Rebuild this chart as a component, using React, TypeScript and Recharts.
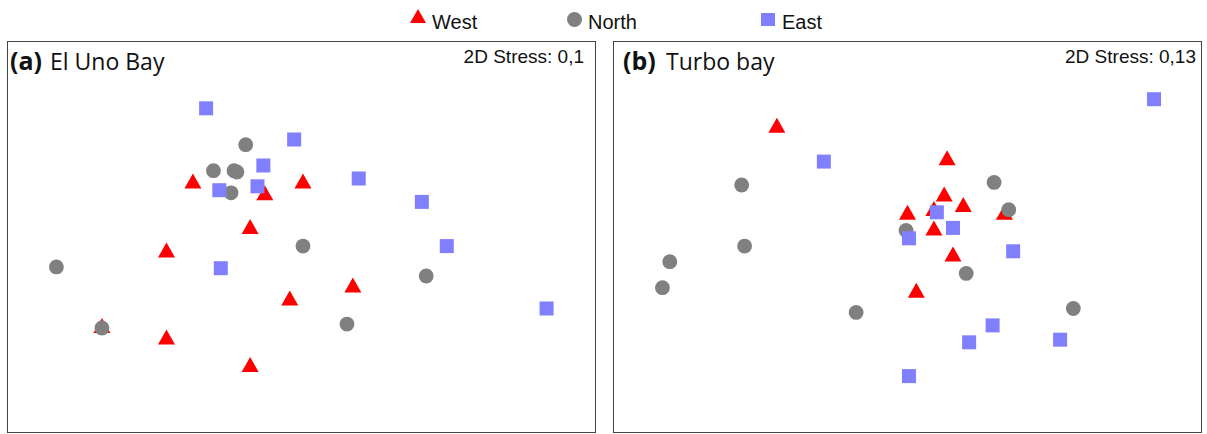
import { ScatterChart, Scatter, XAxis, YAxis } from 'recharts';

// NMDS coordinates (x: -2..2, y: -1.5..1.5)
const unoWest = [
  { x: -0.74, y: 0.43 }, { x: 0.01, y: 0.43 }, { x: -0.25, y: 0.34 }, { x: -0.35, y: 0.08 },
  { x: -0.92, y: -0.1 }, { x: 0.35, y: -0.37 }, { x: -0.08, y: -0.47 }, { x: -1.36, y: -0.68 },
  { x: -0.92, y: -0.77 }, { x: -0.35, y: -0.98 },
];
const unoNorth = [
  { x: -0.38, y: 0.71 }, { x: -0.6, y: 0.51 }, { x: -0.46, y: 0.51 }, { x: -0.44, y: 0.5 },
  { x: -0.48, y: 0.34 }, { x: 0.01, y: -0.07 }, { x: -1.67, y: -0.23 }, { x: 0.85, y: -0.3 },
  { x: 0.31, y: -0.67 }, { x: -1.36, y: -0.7 },
];
const unoEast = [
  { x: -0.65, y: 0.99 }, { x: -0.05, y: 0.75 }, { x: -0.26, y: 0.55 }, { x: -0.56, y: 0.36 },
  { x: -0.3, y: 0.39 }, { x: 0.39, y: 0.45 }, { x: 0.82, y: 0.27 }, { x: 0.99, y: -0.07 },
  { x: -0.55, y: -0.24 }, { x: 1.67, y: -0.55 },
];

const turboWest = [
  { x: -0.89, y: 0.86 }, { x: 0.27, y: 0.61 }, { x: 0.25, y: 0.33 }, { x: 0.38, y: 0.25 },
  { x: 0.0, y: 0.19 }, { x: 0.18, y: 0.22 }, { x: 0.66, y: 0.19 }, { x: 0.18, y: 0.07 },
  { x: 0.31, y: -0.13 }, { x: 0.06, y: -0.41 },
];
const turboNorth = [
  { x: -1.13, y: 0.4 }, { x: 0.59, y: 0.42 }, { x: 0.69, y: 0.21 }, { x: -0.01, y: 0.05 },
  { x: -1.11, y: -0.07 }, { x: -1.62, y: -0.19 }, { x: -1.67, y: -0.39 }, { x: 0.4, y: -0.28 },
  { x: -0.35, y: -0.58 }, { x: 1.13, y: -0.55 },
];
const turboEast = [
  { x: 1.68, y: 1.06 }, { x: -0.57, y: 0.58 }, { x: 0.2, y: 0.19 }, { x: 0.31, y: 0.07 },
  { x: 0.01, y: -0.01 }, { x: 0.72, y: -0.11 }, { x: 0.58, y: -0.68 }, { x: 0.42, y: -0.81 },
  { x: 1.04, y: -0.79 }, { x: 0.01, y: -1.07 },
];

const RED = '#ff0000';
const GREY = '#808080';
const BLUE = '#8080ff';

const Triangle = (p: any) => (
  <polygon
    points={`${p.cx},${p.cy - 7.5} ${p.cx + 8.5},${p.cy + 7.5} ${p.cx - 8.5},${p.cy + 7.5}`}
    fill={RED}
  />
);
const Dot = (p: any) => <circle cx={p.cx} cy={p.cy} r={7.4} fill={GREY} />;
const Square = (p: any) => <rect x={p.cx - 7} y={p.cy - 7} width={14} height={14} fill={BLUE} />;

type PanelProps = { left: number; west: any[]; north: any[]; east: any[] };

const Panel = ({ left, west, north, east }: PanelProps) => (
  <div
    style={{
      position: 'absolute',
      left,
      top: 41,
      width: 589,
      height: 392,
      border: '1px solid #444',
      boxSizing: 'border-box',
    }}
  >
    <ScatterChart width={587} height={390} margin={{ top: 0, right: 0, bottom: 0, left: 0 }}>
      <XAxis type="number" dataKey="x" domain={[-2, 2]} hide />
      <YAxis type="number" dataKey="y" domain={[-1.5, 1.5]} hide />
      <Scatter data={west} shape={Triangle} isAnimationActive={false} />
      <Scatter data={north} shape={Dot} isAnimationActive={false} />
      <Scatter data={east} shape={Square} isAnimationActive={false} />
    </ScatterChart>
  </div>
);

const sans = '"Liberation Sans", Arial, sans-serif';
const title = '"Open Sans", sans-serif';

export default function App() {
  return (
    <div style={{ position: 'absolute', left: 0, top: 0, width: 1207, height: 434, background: '#fff' }}>
      <Panel left={7} west={unoWest} north={unoNorth} east={unoEast} />
      <Panel left={613} west={turboWest} north={turboNorth} east={turboEast} />
      <svg
        width={1207}
        height={434}
        style={{ position: 'absolute', left: 0, top: 0, pointerEvents: 'none' }}
      >
        {/* legend */}
        <polygon points="418,9 426,23 410,23" fill={RED} />
        <text x={432} y={29} fontFamily={sans} fontSize={20} fill="#111">West</text>
        <circle cx={574.5} cy={19.5} r={7.5} fill={GREY} />
        <text x={588} y={29} fontFamily={sans} fontSize={20} fill="#111">North</text>
        <rect x={761} y={13} width={14} height={13} fill={BLUE} />
        <text x={782} y={29} fontFamily={sans} fontSize={20} fill="#111">East</text>

        {/* panel titles */}
        <text x={10} y={70} fontFamily={title} fontSize={25} fontWeight="bold" fill="#111">(a)</text>
        <text x={50} y={70} fontFamily={title} fontSize={23} fill="#111">El Uno Bay</text>
        <text x={584} y={63} textAnchor="end" fontFamily={sans} fontSize={19} fill="#111">2D Stress: 0,1</text>

        <text x={623} y={70} fontFamily={title} fontSize={25} fontWeight="bold" fill="#111">(b)</text>
        <text x={666} y={70} fontFamily={title} fontSize={23} fill="#111">Turbo bay</text>
        <text x={1196} y={63} textAnchor="end" fontFamily={sans} fontSize={19} fill="#111">2D Stress: 0,13</text>
      </svg>
    </div>
  );
}
